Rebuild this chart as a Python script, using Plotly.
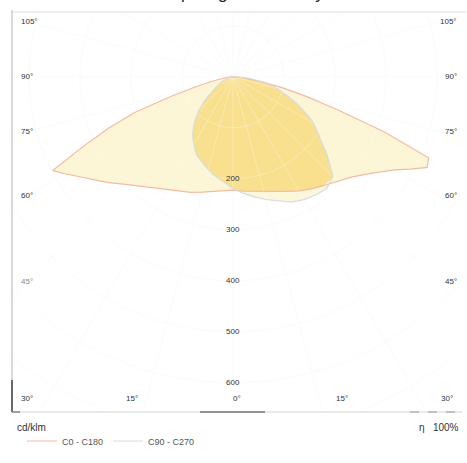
import numpy as np
import plotly.graph_objects as go

# ---- data (cd/klm) ----
gamma = [0, 5, 10, 15, 20, 25, 30, 35, 40, 45, 50, 55, 60, 62.5, 65, 67.5, 70, 72.5, 75, 77.5, 80, 85, 90]
c0   = [222, 225, 228, 232, 240, 248, 258, 268, 278, 290, 305, 330, 365, 392, 420, 415, 315, 215, 150, 100, 60, 20, 0]
c180 = [222, 224, 228, 234, 241, 248, 255, 266, 280, 298, 322, 348, 380, 398, 325, 265, 205, 128, 75, 45, 25, 8, 0]
c90  = [219, 229, 239, 249, 259, 271, 278, 283, 286, 277, 242, 208, 183, 167, 150, 134, 118, 104, 90, 76, 62, 32, 5]
c270 = [219, 208, 198, 188, 178, 169, 153, 138, 118, 96, 72, 48, 35, 30, 25, 21, 17, 13, 10, 8, 6, 3, 0]

curve_names = ["C0 - C180", "C90 - C270"]
side_angles = [105, 90, 75, 60, 45]
bottom_angles = [30, 15, 0, 15, 30]
ring_values = [200, 300, 400, 500, 600]
title_text = "Lamp diagram intensity"

# ---- layout geometry ----
W, H = 467, 463
ML, MR, MT, MB = 12, 7, 12, 51
XR = [-433, 445]
YR = [-657, 127]
FONT = "Liberation Sans"
TXT = "#333333"


def outline(left, right):
    g = np.radians(gamma)
    gl = g[::-1]
    il = np.array(left, float)[::-1]
    ir = np.array(right, float)
    x = np.concatenate([-il * np.sin(gl), ir * np.sin(g)])
    y = np.concatenate([-il * np.cos(gl), -ir * np.cos(g)])
    return x, y


fig = go.Figure()


def grid_traces(color, width):
    t = np.linspace(0, 2 * np.pi, 361)
    xs, ys = [], []
    for r in range(100, 1100, 100):
        xs += list(r * np.sin(t)) + [None]
        ys += list(r * np.cos(t)) + [None]
    for a in range(0, 360, 15):
        ar = np.radians(a)
        xs += [0, 1200 * np.sin(ar), None]
        ys += [0, -1200 * np.cos(ar), None]
    return go.Scatter(x=xs, y=ys, mode="lines", line=dict(color=color, width=width),
                      hoverinfo="skip", showlegend=False)


fig.add_trace(grid_traces("#fafafa", 1))

xw, yw = outline(c180, c0)
xo, yo = outline(c270, c90)
xi, yi = outline(np.minimum(c180, c270), np.minimum(c0, c90))

fig.add_trace(go.Scatter(x=xw, y=yw, mode="lines", fill="toself", fillcolor="#fcf5d6",
                         line=dict(width=0), hoverinfo="skip", showlegend=False))
fig.add_trace(go.Scatter(x=xo, y=yo, mode="lines", fill="toself", fillcolor="#fcf6dc",
                         line=dict(width=0), hoverinfo="skip", showlegend=False))
fig.add_trace(go.Scatter(x=xi, y=yi, mode="lines", fill="toself", fillcolor="#f9e08e",
                         line=dict(width=0), hoverinfo="skip", showlegend=False))

fig.add_trace(grid_traces("rgba(255,255,255,0.3)", 1))

fig.add_trace(go.Scatter(x=xw, y=yw, mode="lines", name=curve_names[0], legendrank=1,
                         line=dict(color="#f3bba2", width=1.2)))
fig.add_trace(go.Scatter(x=xo, y=yo, mode="lines", name=curve_names[1], legendrank=2,
                         line=dict(color="#d3dde2", width=1.2)))

ann = []
pw = W - ML - MR
ph = H - MT - MB


def px_to_paper_x(px):
    return (px - ML) / pw


def px_to_paper_y(py):
    return 1 - (py - MT) / ph


# side angle labels (placed where the ray crosses |x| = 402)
for a in side_angles:
    yv = -402 / np.tan(np.radians(a)) if a != 90 else 0.0
    col = "#888888" if a == 45 else TXT
    ann.append(dict(x=px_to_paper_x(19), xref="paper", y=yv, yref="y", text=f"{a}°",
                    showarrow=False, xanchor="left", yanchor="middle",
                    font=dict(family=FONT, size=8, color=col)))
    ann.append(dict(x=px_to_paper_x(459), xref="paper", y=yv, yref="y", text=f"{a}°",
                    showarrow=False, xanchor="right", yanchor="middle",
                    font=dict(family=FONT, size=8, color=TXT)))

# bottom angle labels
for i, a in enumerate(bottom_angles):
    ann.append(dict(x=px_to_paper_x(27 + i * 105), xref="paper", y=px_to_paper_y(398), yref="paper",
                    text=f"{a}°", showarrow=False, xanchor="center", yanchor="middle",
                    font=dict(family=FONT, size=8, color=TXT)))

# intensity ring labels
for v in ring_values:
    ann.append(dict(x=0, y=-v, xref="x", yref="y", text=str(v), showarrow=False,
                    xanchor="center", yanchor="middle",
                    font=dict(family=FONT, size=8, color=TXT)))

ann.append(dict(x=px_to_paper_x(15), y=px_to_paper_y(427), xref="paper", yref="paper",
                text="cd/klm", showarrow=False, xanchor="left", yanchor="middle",
                font=dict(family=FONT, size=10, color=TXT)))
ann.append(dict(x=px_to_paper_x(461), y=px_to_paper_y(427), xref="paper", yref="paper",
                text="η   100%", showarrow=False, xanchor="right", yanchor="middle",
                font=dict(family=FONT, size=10, color=TXT)))
# title, mostly above the top edge of the page (only descenders visible, as in reference)
ann.append(dict(x=0.5, y=px_to_paper_y(-6.5), xref="paper", yref="paper", text=title_text,
                showarrow=False, xanchor="center", yanchor="middle",
                font=dict(family=FONT, size=17, color="#222222")))

shapes = [
    dict(type="line", xref="paper", yref="paper", x0=0, x1=px_to_paper_x(466), y0=1, y1=1,
         line=dict(color="#dddddd", width=1)),
    dict(type="line", xref="paper", yref="paper", x0=0, x1=0, y0=0, y1=px_to_paper_y(10),
         line=dict(color="#cccccc", width=1.5)),
    dict(type="line", xref="paper", yref="paper", x0=0, x1=0, y0=0, y1=px_to_paper_y(380),
         line=dict(color="#444444", width=1.5)),
    dict(type="line", xref="paper", yref="paper", x0=0, x1=px_to_paper_x(462), y0=0, y1=0,
         line=dict(color="#d5d5d5", width=1)),
    dict(type="line", xref="paper", yref="paper", x0=0, x1=px_to_paper_x(20), y0=0, y1=0,
         line=dict(color="#555555", width=1)),
    dict(type="line", xref="paper", yref="paper", x0=px_to_paper_x(200), x1=px_to_paper_x(265),
         y0=0, y1=0, line=dict(color="#777777", width=1.5)),
    dict(type="line", xref="paper", yref="paper", x0=px_to_paper_x(410), x1=px_to_paper_x(460),
         y0=0, y1=0, line=dict(color="#999999", width=1, dash="dash")),
]

fig.update_layout(
    width=W, height=H,
    margin=dict(l=ML, r=MR, t=MT, b=MB),
    paper_bgcolor="white", plot_bgcolor="white",
    xaxis=dict(range=XR, visible=False, fixedrange=True),
    yaxis=dict(range=YR, visible=False, fixedrange=True),
    annotations=ann, shapes=shapes,
    showlegend=True,
    legend=dict(orientation="h", x=px_to_paper_x(22), y=px_to_paper_y(441), xanchor="left",
                yanchor="middle", font=dict(family=FONT, size=9, color="#555555"),
                itemwidth=30, bgcolor="rgba(0,0,0,0)", tracegroupgap=0),
)

fig.write_html("out.html", config={"displayModeBar": False},
               post_script="document.body.style.margin='0px';document.body.style.overflow='hidden';")
